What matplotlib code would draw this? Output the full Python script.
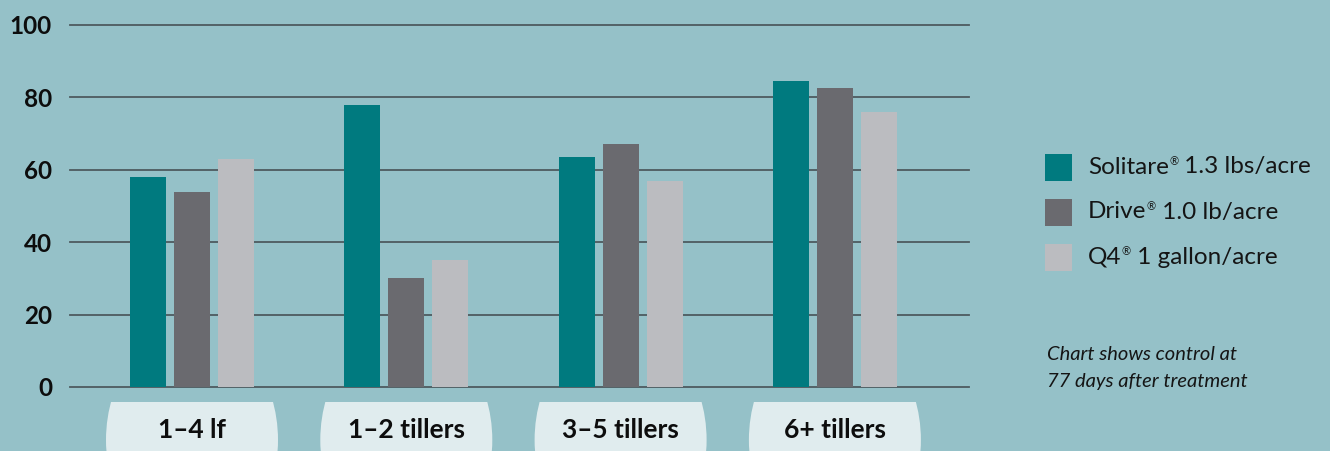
import matplotlib.pyplot as plt
import matplotlib.transforms as mtransforms
from matplotlib.patches import Ellipse, Rectangle

categories = ["1–4 lf", "1–2 tillers", "3–5 tillers", "6+ tillers"]
solitare = [58, 78, 63.5, 84.5]
drive = [54, 30, 67, 82.5]
q4 = [63, 35, 57, 76]
series_names = [("Solitare", " 1.3 lbs/acre"), ("Drive", " 1.0 lb/acre"), ("Q4", " 1 gallon/acre")]
yticks = [0, 20, 40, 60, 80, 100]

BG = "#95c1c8"
COLORS = ["#007a7f", "#6a6a6f", "#bbbcc0"]
GRID = "#4e5b5f"
PILL = "#e0ecee"

plt.rcParams["font.family"] = ["Lato", "DejaVu Sans"]

W, H = 1330, 451
fig = plt.figure(figsize=(W / 100, H / 100), dpi=100, facecolor=BG)
# axes box in pixels: x 70..969, y 25..387
ax = fig.add_axes([70 / W, (H - 387) / H, (969 - 70) / W, (387 - 25) / H])
ax.set_facecolor(BG)

spacing = 214.3
x0 = -(192 - 70) / spacing
ax.set_xlim(x0, x0 + (969 - 70) / spacing)
ax.set_ylim(0, 100)

bw = 36 / spacing
off = 44 / spacing
for k, vals in enumerate([solitare, drive, q4]):
    xs = [i + (k - 1) * off for i in range(len(categories))]
    ax.bar(xs, vals, width=bw, color=COLORS[k], zorder=3)

for y in yticks:
    ax.axhline(y, color=GRID, lw=1.3, zorder=1, clip_on=False)

for s in ax.spines.values():
    s.set_visible(False)
ax.set_xticks([])
ax.set_yticks(yticks)
ax.set_yticklabels([str(v) for v in yticks], fontsize=17.5, fontweight="bold",
                   color="#0d0d0d")
ax.tick_params(axis="y", length=0, pad=13)

# category labels in pill shapes
trans = mtransforms.blended_transform_factory(ax.transData, ax.transAxes)
ah = 387 - 25
for i, lab in enumerate(categories):
    clip = Rectangle((i - 1, -1.2), 2, 1.2 - (402 - 387) / ah, transform=trans)
    e = Ellipse((i, -(440 - 387) / ah), 172 / spacing, 226 / ah,
                transform=trans, facecolor=PILL, edgecolor="none")
    ax.add_patch(e)
    e.set_clip_path(clip)
    e.set_clip_on(True)
    ax.text(i, -(430 - 387) / ah, lab, transform=trans, ha="center", va="center",
            fontsize=19, fontweight="bold", color="#0d0d0d")

# legend
fig.canvas.draw()
renderer = fig.canvas.get_renderer()
for k, (name, rest) in enumerate(series_names):
    cy = 167 + 45 * k
    fig.patches.append(Rectangle((1045 / W, (H - cy - 13.5) / H), 27 / W, 27 / H,
                                 transform=fig.transFigure, facecolor=COLORS[k],
                                 edgecolor="none"))
    t1 = fig.text(1088 / W, (H - cy) / H, name, fontsize=17.5, va="center",
                  color="#151515")
    bb = t1.get_window_extent(renderer)
    t2 = fig.text(bb.x1 / W + 0.5 / W, (H - cy + 5) / H, "®", fontsize=8,
                  va="center", color="#151515")
    bb2 = t2.get_window_extent(renderer)
    fig.text(bb2.x1 / W, (H - cy) / H, rest, fontsize=17.5, va="center",
             color="#151515")

fig.text(1047 / W, (H - 354) / H, "Chart shows control at", fontsize=14.5,
         style="italic", va="center", color="#151515")
fig.text(1047 / W, (H - 381) / H, "77 days after treatment", fontsize=14.5,
         style="italic", va="center", color="#151515")

fig.savefig("out.png", dpi=100, facecolor=BG)
